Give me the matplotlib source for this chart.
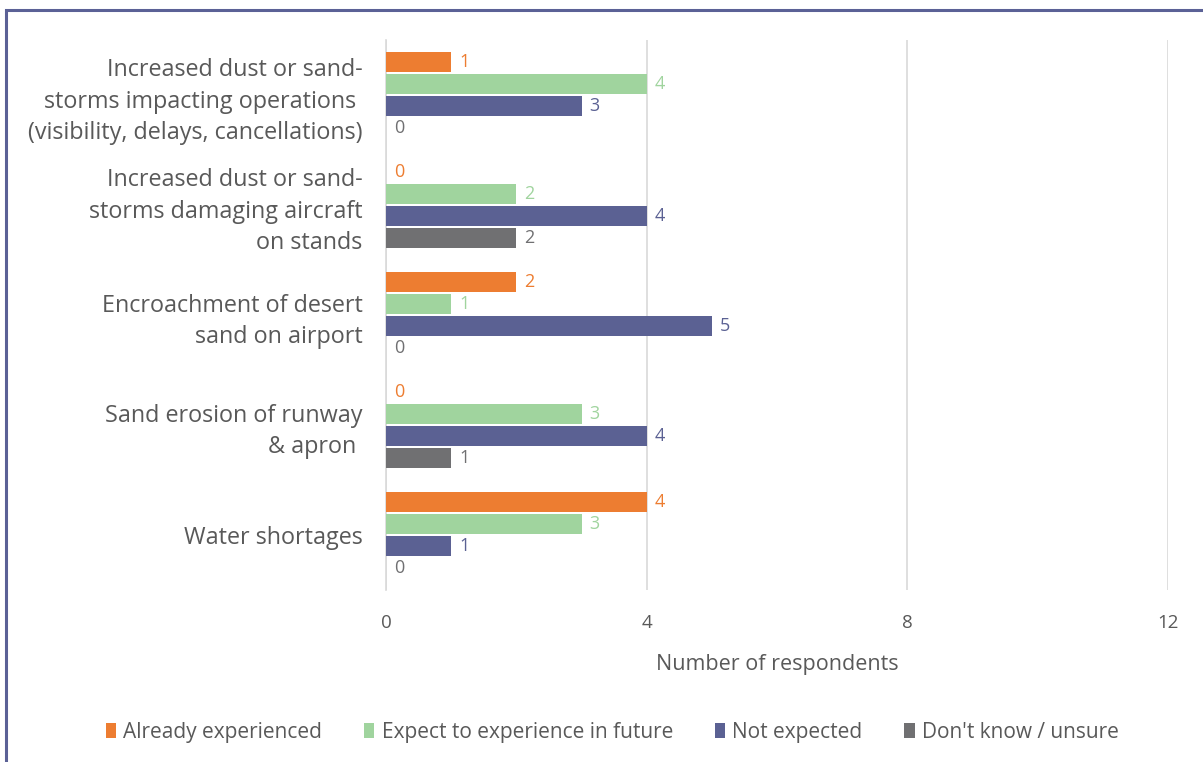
import matplotlib.pyplot as plt
import matplotlib.patches as mpatches
import numpy as np

plt.rcParams['font.family'] = ['Open Sans', 'DejaVu Sans']

categories = [
    "Increased dust or sand-\nstorms impacting operations \n(visibility, delays, cancellations)",
    "Increased dust or sand-\nstorms damaging aircraft\non stands",
    "Encroachment of desert\nsand on airport",
    "Sand erosion of runway\n& apron ",
    "Water shortages",
]
series_names = ["Already experienced", "Expect to experience in future",
                "Not expected", "Don't know / unsure"]
already = [1, 0, 2, 0, 4]
expect = [4, 2, 1, 3, 3]
not_expected = [3, 4, 5, 4, 1]
dont_know = [0, 2, 0, 1, 0]
xticks = [0, 4, 8, 12]

colors = ['#ED7D31', '#A0D49E', '#5B6193', '#707072']
series = [already, expect, not_expected, dont_know]
text_grey = '#595959'

fig = plt.figure(figsize=(12.03, 7.62), dpi=100)
ax = fig.add_axes([0.321, 0.2257, 0.65, 0.7218])

# outer frame (only top/left visible in the original)
frame = mpatches.Rectangle((6 / 1203, -0.05), 1.2, 1 - 10 / 762 + 0.05,
                           transform=fig.transFigure, fill=False,
                           edgecolor='#5B6196', linewidth=2.2, zorder=10)
fig.patches.append(frame)

y = np.arange(len(categories))
step = 0.2
bar_h = 0.18
offsets = [-1.5 * step, -0.5 * step, 0.5 * step, 1.5 * step]

for vals, col, off, name in zip(series, colors, offsets, series_names):
    bars = ax.barh(y + off, vals, height=bar_h, color=col, label=name,
                   linewidth=0, zorder=3)
    for b, v in zip(bars, vals):
        ax.text(v + 0.12, b.get_y() + b.get_height() / 2, str(v),
                va='center', ha='left', fontsize=13, color=col)

ax.set_ylim(len(categories) - 0.5, -0.5)
ax.set_xlim(0, 12)
ax.set_yticks(y)
ax.set_yticklabels(categories, fontsize=16.8, color=text_grey,
                   linespacing=1.4)
ax.set_xticks(xticks)
ax.set_xticklabels([str(t) for t in xticks], fontsize=13.5, color=text_grey)
ax.tick_params(axis='y', length=0, pad=17)
ax.tick_params(axis='x', length=0, pad=17)
ax.set_xlabel("Number of respondents", fontsize=15.5, color=text_grey, labelpad=16)

for s in ['top', 'right', 'bottom']:
    ax.spines[s].set_visible(False)
ax.spines['left'].set_color('#D9D9D9')
ax.spines['left'].set_linewidth(1.2)
ax.grid(axis='x', color='#D9D9D9', linewidth=1.2, zorder=0)
ax.set_axisbelow(True)

leg = fig.legend(loc='center', bbox_to_anchor=(0.509, 0.039), ncol=4,
                 frameon=False, fontsize=15, handlelength=0.5,
                 handleheight=0.75, handletextpad=0.35, columnspacing=2.0)
for t in leg.get_texts():
    t.set_color(text_grey)

fig.savefig('out.png', dpi=100, facecolor='white')
